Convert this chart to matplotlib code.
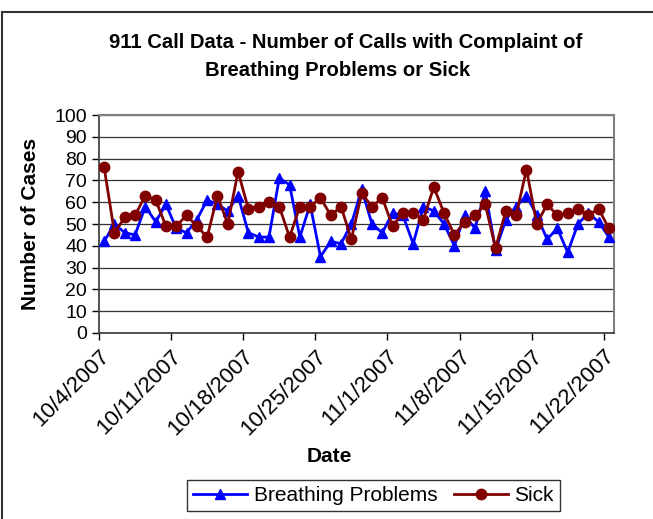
import matplotlib
matplotlib.use("Agg")
import matplotlib.pyplot as plt
from matplotlib.patches import Rectangle

plt.rcParams['font.family'] = ['Liberation Sans', 'DejaVu Sans']

# daily counts, 10/4/2007 .. 11/22/2007
breathing = [42, 50, 46, 45, 58, 51, 59, 48, 46, 52,
             61, 59, 56, 63, 46, 44, 44, 71, 68, 44,
             59, 35, 42, 41, 50, 66, 50, 46, 55, 54,
             41, 58, 56, 50, 40, 54, 48, 65, 38, 52,
             58, 63, 54, 43, 48, 37, 50, 55, 51, 44]
sick = [76, 46, 53, 54, 63, 61, 49, 49, 54, 49,
        44, 63, 50, 74, 57, 58, 60, 58, 44, 58,
        58, 62, 54, 58, 43, 64, 58, 62, 49, 55,
        55, 52, 67, 55, 45, 51, 54, 59, 39, 56,
        54, 75, 50, 59, 54, 55, 57, 54, 57, 48]
tick_labels = ['10/4/2007', '10/11/2007', '10/18/2007', '10/25/2007',
               '11/1/2007', '11/8/2007', '11/15/2007', '11/22/2007']

fig = plt.figure(figsize=(6.53, 5.19), dpi=100)
ax = fig.add_axes([0.1516, 0.3584, 0.7887, 0.4200])

# points sit between the day tick marks, like Excel does
x = [i + 0.5 for i in range(len(sick))]
ax.plot(x, breathing, color='#0000FF', lw=2, marker='^', ms=7.5,
        label='Breathing Problems', zorder=3)
ax.plot(x, sick, color='#800000', lw=2, marker='o', ms=7.5,
        label='Sick', zorder=4)

ax.set_xlim(0, len(sick))
ax.set_ylim(0, 100)
ax.set_yticks(range(0, 101, 10))
ax.set_xticks(range(0, len(sick), 7))
ax.set_xticklabels(tick_labels, rotation=45, ha='right', rotation_mode='anchor',
                   fontsize=16)
ax.tick_params(axis='y', labelsize=14, direction='out', length=5, width=1)
ax.tick_params(axis='x', direction='out', length=5, width=1, pad=4)
ax.yaxis.grid(True, color='#333333', lw=0.9)
ax.set_axisbelow(True)

for s in ['top', 'right']:
    ax.spines[s].set_color('#808080')
    ax.spines[s].set_linewidth(1.5)
for s in ['left', 'bottom']:
    ax.spines[s].set_color('#444444')
    ax.spines[s].set_linewidth(1.3)

fig.text(0.505, 0.1195, 'Date', fontsize=15, fontweight='bold',
         ha='center', va='center')
fig.text(0.046, 0.568, 'Number of Cases', rotation=90, fontsize=15,
         fontweight='bold', ha='center', va='center')

fig.text(0.53, 0.919, '911 Call Data - Number of Calls with Complaint of',
         fontsize=14.6, fontweight='bold', ha='center', va='center')
fig.text(0.517, 0.865, 'Breathing Problems or Sick',
         fontsize=14.6, fontweight='bold', ha='center', va='center')

leg = fig.legend(loc='center', bbox_to_anchor=(0.572, 0.0453),
                 ncol=2, fontsize=15, frameon=True, fancybox=False,
                 handlelength=2.6, columnspacing=0.8, handletextpad=0.3,
                 borderpad=0.3)
leg.get_frame().set_edgecolor('black')
leg.get_frame().set_linewidth(1)

# outer chart border (cut off on right and bottom)
fig.patches.append(Rectangle((2 / 653, -0.1), 1.2, 1 - 12 / 519 + 0.1,
                             transform=fig.transFigure, fill=False,
                             edgecolor='#333333', lw=1.5))

fig.savefig('out.png', dpi=100)
